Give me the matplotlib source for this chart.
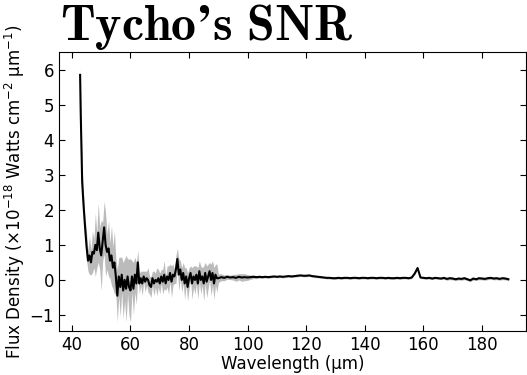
import numpy as np
import matplotlib
matplotlib.use('Agg')
import matplotlib.pyplot as plt

# noisy short-wavelength part: first point at 42.8 um, then 0.5 um steps from 43.0
flux_a = [5.85,
          4.8, 2.8, 2.1, 1.5, 0.95, 0.55, 0.7, 0.5, 0.8, 0.75,
          1.0, 0.85, 1.35, 0.9, 0.7, 1.1, 1.5, 1.0, 0.8, 0.9,
          0.55, 0.7, 0.35, 0.5, 0.1, -0.45, 0.1, -0.2, 0.15, -0.3,
          0.0, -0.25, 0.1, -0.2, -0.3, 0.1, -0.25, 0.15, -0.1, 0.5,
          -0.1, 0.05, -0.1, 0.1, -0.05, 0.05, 0.0, -0.15, -0.2, 0.05,
          -0.1, 0.0, -0.05, 0.05, -0.1, 0.1, -0.05, 0.15, -0.1, 0.1,
          0.0, 0.2, -0.05, 0.15, 0.1, 0.3, 0.6, 0.15, 0.3, 0.0,
          0.2, -0.1, 0.1, -0.2, 0.05, 0.2, -0.1, 0.1, 0.0, 0.15,
          -0.1, 0.25, 0.0, 0.1, -0.1, 0.2, -0.05, 0.1, 0.25, 0.0,
          0.2, -0.1, 0.15, 0.05]
err_a = [0.25,
         0.3, 0.45, 0.3, 0.25, 0.4, 0.3, 0.55, 0.35, 0.6, 0.4,
         0.9, 0.5, 0.85, 0.6, 1.0, 0.55, 0.75, 0.9, 0.5, 0.8,
         0.5, 0.85, 0.6, 0.9, 0.5, 0.75, 0.55, 0.85, 0.5, 0.8,
         0.6, 0.95, 0.5, 0.8, 0.9, 0.45, 0.75, 0.5, 0.6, 0.35,
         0.3, 0.2, 0.35, 0.15, 0.3, 0.2, 0.35, 0.25, 0.3, 0.2,
         0.35, 0.2, 0.4, 0.25, 0.3, 0.2, 0.35, 0.4, 0.2, 0.3,
         0.4, 0.25, 0.45, 0.3, 0.2, 0.4, 0.3, 0.45, 0.25, 0.35,
         0.3, 0.45, 0.25, 0.4, 0.3, 0.2, 0.45, 0.3, 0.4, 0.25,
         0.45, 0.3, 0.4, 0.25, 0.5, 0.3, 0.45, 0.35, 0.25, 0.45,
         0.35, 0.45, 0.3, 0.4]

# smooth long-wavelength part, 1 um steps from 90 um
flux_b = [0.05, 0.08, 0.06, 0.09, 0.07, 0.08, 0.06, 0.09, 0.07, 0.08,
          0.07, 0.08, 0.09, 0.08, 0.09, 0.08, 0.09, 0.08, 0.09, 0.1,
          0.09, 0.1, 0.09, 0.1, 0.11, 0.1, 0.11, 0.12, 0.13, 0.12,
          0.12, 0.13, 0.11, 0.1, 0.09, 0.08, 0.07, 0.06, 0.06, 0.05,
          0.05, 0.06, 0.05, 0.06, 0.06, 0.05, 0.06, 0.06, 0.05, 0.06,
          0.06, 0.05, 0.06, 0.06, 0.05, 0.06, 0.06, 0.05, 0.06, 0.05,
          0.05, 0.06, 0.05, 0.06, 0.06, 0.05, 0.07, 0.18, 0.34, 0.07,
          0.06, 0.05, 0.06, 0.04, 0.06, 0.05, 0.04, 0.06, 0.03, 0.05,
          0.04, 0.02, 0.04, 0.03, 0.05, 0.02, -0.01, 0.04, 0.02, 0.05,
          0.04, 0.03, 0.05, 0.06, 0.04, 0.05, 0.03, 0.05, 0.04, 0.02]
err_b = [0.12, 0.1, 0.08, 0.07, 0.06, 0.08, 0.1, 0.09, 0.11, 0.1,
         0.08, 0.06, 0.05, 0.04, 0.04, 0.03, 0.03, 0.03, 0.03, 0.03,
         0.03, 0.03, 0.03, 0.03, 0.03, 0.03, 0.03, 0.03, 0.03, 0.03,
         0.03, 0.03, 0.03, 0.03, 0.03, 0.03, 0.03, 0.03, 0.03, 0.03,
         0.03, 0.03, 0.03, 0.03, 0.03, 0.03, 0.03, 0.03, 0.03, 0.03,
         0.03, 0.03, 0.03, 0.03, 0.03, 0.03, 0.03, 0.03, 0.03, 0.03,
         0.03, 0.03, 0.03, 0.03, 0.03, 0.03, 0.03, 0.03, 0.03, 0.03,
         0.03, 0.03, 0.03, 0.03, 0.03, 0.03, 0.03, 0.04, 0.04, 0.04,
         0.04, 0.04, 0.04, 0.04, 0.04, 0.04, 0.04, 0.04, 0.04, 0.04,
         0.04, 0.04, 0.04, 0.04, 0.04, 0.04, 0.04, 0.04, 0.04, 0.04]

wave_a = np.concatenate([[42.8], 43.0 + 0.5 * np.arange(len(flux_a) - 1)])
wave_b = 90.0 + np.arange(len(flux_b))
wave = np.concatenate([wave_a, wave_b])
flux = np.array(flux_a + flux_b)
err = np.array(err_a + err_b)

fig = plt.figure(figsize=(5.27, 3.75), dpi=100)
ax = fig.add_axes([0.112, 0.117, 0.886, 0.744])

ax.fill_between(wave, flux - err, flux + err, color='#bbbbbb', lw=0)
ax.plot(wave, flux, color='black', lw=1.5)

ax.set_xlim(35.6, 195)
ax.set_ylim(-1.46, 6.5)
ax.set_xticks(np.arange(40, 181, 20))
ax.set_yticks(np.arange(-1, 7, 1))
ax.tick_params(direction='in', top=True, right=True, labelsize=12, length=4)
ax.set_xlabel('Wavelength (µm)', fontsize=12, labelpad=1)
ax.set_ylabel(r'Flux Density ($\times$10$^{-18}$ Watts cm$^{-2}$ µm$^{-1}$)', fontsize=12, labelpad=2)

fig.text(60 / 527, 1 - 40 / 375, r"$\mathbf{Tycho’s\ SNR}$", fontsize=36,
         va='baseline', ha='left', math_fontfamily='cm')

fig.savefig('out.png', dpi=100)
